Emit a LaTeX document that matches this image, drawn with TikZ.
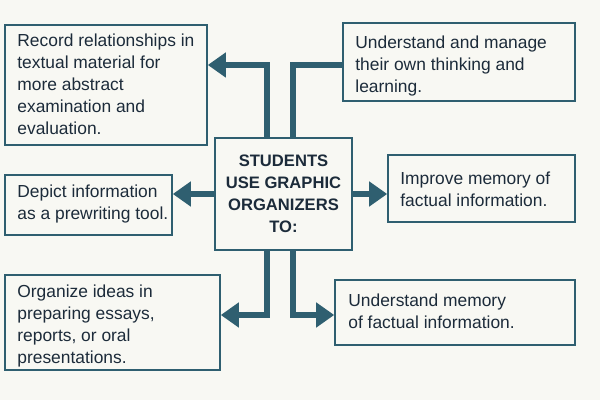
\documentclass[tikz,border=0pt]{standalone}
\usepackage{fontspec}
\setmainfont{Liberation Sans}
\usetikzlibrary{arrows.meta}
\definecolor{bg}{HTML}{F8F8F3}
\definecolor{teal}{HTML}{2F5F70}
\definecolor{ink}{HTML}{1C2B3A}
\begin{document}
\begin{tikzpicture}[x=0.5pt,y=-0.5pt,
  box/.style={draw=teal,line width=0.8pt,fill=bg,inner sep=0pt,anchor=center,font=\fontsize{8.7}{11}\selectfont,text=ink},
  txt/.style={anchor=north west,align=left,text=ink,font=\fontsize{8.7}{11}\selectfont,inner sep=0pt},
  arr/.style={draw=teal,line width=3pt,-{Triangle[length=9pt,width=12pt]}},
  ln/.style={draw=teal,line width=3pt}]
\fill[bg] (0,0) rectangle (600,400);
\useasboundingbox (0,0) rectangle (600,400);
\node[box,minimum width=101pt,minimum height=60pt] (TL) at (106,85) {};
\node[txt] at (17,33) {Record relationships in\\textual material for\\more abstract\\examination and\\evaluation.};
\node[box,minimum width=116pt,minimum height=39pt] (TR) at (459,62) {};
\node[txt] at (355,35) {Understand and manage\\their own thinking and\\learning.};
\node[box,minimum width=68.5pt,minimum height=56pt,font=\bfseries\fontsize{8.3}{11}\selectfont,align=center] (C) at (283.5,194) {STUDENTS\\USE GRAPHIC\\ORGANIZERS\\TO:};
\node[box,minimum width=83.5pt,minimum height=30pt] (LM) at (88.5,205) {};
\node[txt] at (17,184) {Depict information\\as a prewriting tool.};
\node[box,minimum width=93.5pt,minimum height=33.5pt] (RM) at (481.5,188.5) {};
\node[txt] at (400,172) {Improve memory of\\factual information.};
\node[box,minimum width=107.5pt,minimum height=47.5pt] (BL) at (112.5,322.5) {};
\node[txt] at (17,284) {Organize ideas in\\preparing essays,\\reports, or oral\\presentations.};
\node[box,minimum width=120pt,minimum height=32.5pt] (BR) at (455,312.5) {};
\node[txt] at (348,293) {Understand memory\\of factual information.};
\draw[arr] (C.north -| 267,0) |- (TL.east |- 0,65);
\draw[ln] (C.north -| 293,0) |- (TR.west |- 0,65);
\draw[arr] (C.west) -- (LM.east |- C.west);
\draw[arr] (C.east) -- (RM.west |- C.east);
\draw[arr] (C.south -| 267,0) |- (BL.east |- 0,315);
\draw[arr] (C.south -| 293,0) |- (BR.west |- 0,315);
\end{tikzpicture}
\end{document}
